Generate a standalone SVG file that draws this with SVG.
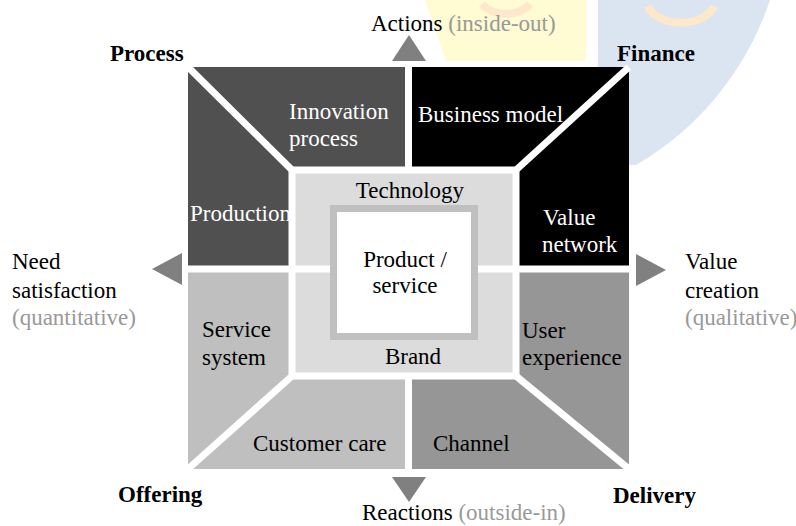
<svg xmlns="http://www.w3.org/2000/svg" width="796" height="526" viewBox="0 0 796 526">
<style>
text{font-family:"Liberation Serif","Times New Roman",Times,"DejaVu Serif","Noto Serif",serif;font-size:23px;fill:#000}
.w{fill:#fff}
.g{fill:#999}
.b{font-weight:bold}
.sep{stroke:#fff;stroke-width:7;fill:none}
.tri{fill:#808080}
</style>
<rect width="796" height="526" fill="#fff"/>
<g id="watermark">
<polygon points="425,0 586,0 586,61 446,61" fill="#fffbd2"/>
<path d="M598,0 L770,0 A300,300 0 0 1 636,165 L598,165 Z" fill="#dbe4f1"/>
<path d="M482,4 A28,20 0 0 0 530,4" fill="none" stroke="#fde8cc" stroke-width="8"/>
<path d="M648,6 A34,22 0 0 0 714,6" fill="none" stroke="#fde8cc" stroke-width="8"/>
</g>
<g id="innovation-process">
<polygon points="188,67 408.5,67 408.5,170 292,170" fill="#505050"/>
<text class="w" x="289" y="119">Innovation</text>
<text class="w" x="289" y="146">process</text>
</g>
<g id="business-model">
<polygon points="408.5,67 629,67 516,170 408.5,170" fill="#000"/>
<text class="w" x="418" y="122">Business model</text>
</g>
<g id="production">
<polygon points="188,67 292,170 292,269 188,269" fill="#505050"/>
<text class="w" x="190" y="221">Production</text>
</g>
<g id="value-network">
<polygon points="629,67 629,269 516,269 516,170" fill="#000"/>
<text class="w" x="543" y="225">Value</text>
<text class="w" x="542" y="252">network</text>
</g>
<g id="service-system">
<polygon points="188,269 292,269 292,376 188,469" fill="#bfbfbf"/>
<text x="202" y="337">Service</text>
<text x="202" y="365">system</text>
</g>
<g id="user-experience">
<polygon points="516,269 629,269 629,469 516,376" fill="#969696"/>
<text x="522" y="338">User</text>
<text x="522" y="365">experience</text>
</g>
<g id="customer-care">
<polygon points="188,469 292,376 408.5,376 408.5,469" fill="#bfbfbf"/>
<text x="253" y="451">Customer care</text>
</g>
<g id="channel">
<polygon points="408.5,376 516,376 629,469 408.5,469" fill="#969696"/>
<text x="433" y="451">Channel</text>
</g>
<g id="technology">
<rect x="292" y="170" width="224" height="99" fill="#dcdcdc"/>
<text x="410" y="198" text-anchor="middle">Technology</text>
</g>
<g id="brand">
<rect x="292" y="269" width="224" height="107" fill="#dcdcdc"/>
<text x="413" y="364" text-anchor="middle">Brand</text>
</g>
<g id="separators">
<line class="sep" x1="188" y1="67" x2="292" y2="170"/>
<line class="sep" x1="629" y1="67" x2="516" y2="170"/>
<line class="sep" x1="188" y1="469" x2="292" y2="376"/>
<line class="sep" x1="629" y1="469" x2="516" y2="376"/>
<line class="sep" x1="408.5" y1="64" x2="408.5" y2="170"/>
<line class="sep" x1="408.5" y1="376" x2="408.5" y2="472"/>
<line class="sep" x1="185" y1="269" x2="632" y2="269"/>
<rect class="sep" x="292" y="170" width="224" height="206"/>
</g>
<g id="product-service">
<rect x="333.5" y="208.5" width="141" height="128" fill="#fff" stroke="#c0c0c0" stroke-width="7"/>
<text x="405" y="267" text-anchor="middle">Product /</text>
<text x="405" y="293" text-anchor="middle">service</text>
</g>
<g id="arrows">
<polygon class="tri" points="409,35 392,61 426,61"/>
<polygon class="tri" points="392,477 426,477 409,502"/>
<polygon class="tri" points="152,269 182,253 182,285"/>
<polygon class="tri" points="636,254 636,286 666,270"/>
</g>
<g id="labels">
<text x="371" y="31">Actions <tspan class="g">(inside-out)</tspan></text>
<text x="362" y="520">Reactions <tspan class="g">(outside-in)</tspan></text>
<text class="b" x="110" y="61">Process</text>
<text class="b" x="617" y="61">Finance</text>
<text class="b" x="118" y="502">Offering</text>
<text class="b" x="613" y="503">Delivery</text>
<text x="12" y="269">Need</text>
<text x="12" y="298">satisfaction</text>
<text class="g" x="12" y="325">(quantitative)</text>
<text x="685" y="269">Value</text>
<text x="685" y="298">creation</text>
<text class="g" x="685" y="325">(qualitative)</text>
</g>
</svg>
